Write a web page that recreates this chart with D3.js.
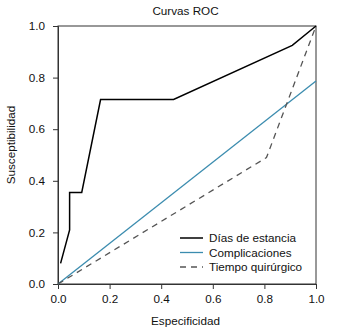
<!DOCTYPE html>
<html>
<head>
<meta charset="utf-8">
<script src="https://cdn.jsdelivr.net/npm/d3@7"></script>
<style>
  body { margin: 0; background: #fff; }
  svg { display: block; font-family: "Liberation Sans", Arial, sans-serif; }
</style>
</head>
<body>
<script>
const width = 338;
const height = 329;
const marginTop = 26;
const marginRight = 22;
const marginBottom = 45;
const marginLeft = 58;

// ROC curves: [1 - specificity axis value, sensitivity]
const diasEstancia = [[0.01, 0.08], [0.045, 0.21], [0.045, 0.355], [0.092, 0.355], [0.165, 0.715], [0.448, 0.715], [0.908, 0.925], [1, 1]];
const complicaciones = [[0, 0], [1, 0.787]];
const tiempoQuirurgico = [[0, 0], [0.808, 0.49], [1, 1]];

const seriesNames = ["Días de estancia", "Complicaciones", "Tiempo quirúrgico"];
const ticks = [0, 0.2, 0.4, 0.6, 0.8, 1.0];

const series = [
  {name: seriesNames[0], data: diasEstancia, color: "#000", width: 1.5, dash: null},
  {name: seriesNames[1], data: complicaciones, color: "#3b8caf", width: 1.3, dash: null},
  {name: seriesNames[2], data: tiempoQuirurgico, color: "#555", width: 1.3, dash: "6,5"}
];

const x = d3.scaleLinear().domain([0, 1]).range([marginLeft, width - marginRight]);
const y = d3.scaleLinear().domain([0, 1]).range([height - marginBottom, marginTop]);

const svg = d3.create("svg")
  .attr("width", width)
  .attr("height", height)
  .attr("viewBox", [0, 0, width, height]);

// frame
svg.append("rect")
  .attr("x", x(0)).attr("y", y(1))
  .attr("width", x(1) - x(0)).attr("height", y(0) - y(1))
  .attr("fill", "none").attr("stroke", "#333").attr("stroke-width", 1);

const fmt = d3.format(".1f");

svg.append("g")
  .attr("transform", `translate(0,${y(0)})`)
  .call(d3.axisBottom(x).tickValues(ticks).tickFormat(fmt).tickSize(5).tickPadding(6))
  .call(g => g.select(".domain").attr("stroke", "#333"))
  .call(g => g.selectAll(".tick line").attr("stroke", "#333"))
  .call(g => g.selectAll("text").attr("font-size", 11.7).attr("fill", "#111").attr("font-family", "Liberation Sans, Arial, sans-serif"));

svg.append("g")
  .attr("transform", `translate(${x(0)},0)`)
  .call(d3.axisLeft(y).tickValues(ticks).tickFormat(fmt).tickSize(5).tickPadding(8))
  .call(g => g.select(".domain").attr("stroke", "#333"))
  .call(g => g.selectAll(".tick line").attr("stroke", "#333"))
  .call(g => g.selectAll("text").attr("font-size", 11.7).attr("fill", "#111").attr("font-family", "Liberation Sans, Arial, sans-serif"));

const line = d3.line().x(d => x(d[0])).y(d => y(d[1]));

svg.selectAll("path.roc")
  .data(series)
  .enter()
  .append("path")
  .attr("class", "roc")
  .attr("d", d => line(d.data))
  .attr("fill", "none")
  .attr("stroke", d => d.color)
  .attr("stroke-width", d => d.width)
  .attr("stroke-dasharray", d => d.dash);

// title and axis labels
svg.append("text")
  .attr("x", 185.5).attr("y", 15)
  .attr("text-anchor", "middle").attr("font-size", 11.7).attr("fill", "#111")
  .text("Curvas ROC");

svg.append("text")
  .attr("x", 185.5).attr("y", 325)
  .attr("text-anchor", "middle").attr("font-size", 11.7).attr("fill", "#111")
  .text("Especificidad");

svg.append("text")
  .attr("transform", "translate(15,145) rotate(-90)")
  .attr("text-anchor", "middle").attr("font-size", 11.7).attr("fill", "#111")
  .text("Susceptibilidad");

// legend
const legend = svg.append("g").attr("transform", "translate(180,238)");
const row = legend.selectAll("g")
  .data(series)
  .enter()
  .append("g")
  .attr("transform", (d, i) => `translate(0,${i * 14.5})`);

row.append("line")
  .attr("x1", 0).attr("x2", 23).attr("y1", 0).attr("y2", 0)
  .attr("stroke", d => d.color)
  .attr("stroke-width", d => d.width)
  .attr("stroke-dasharray", d => d.dash);

row.append("text")
  .attr("x", 29).attr("y", 4)
  .attr("font-size", 11.7).attr("fill", "#111")
  .text(d => d.name);

d3.select("body").append(() => svg.node());
</script>
</body>
</html>
